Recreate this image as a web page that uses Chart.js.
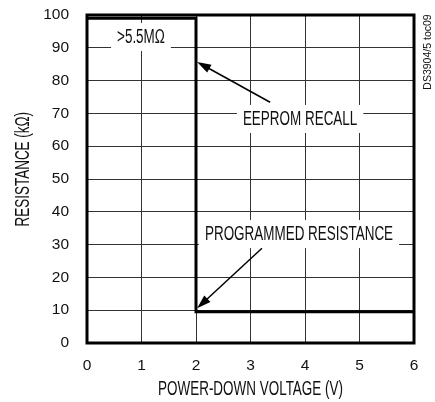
<!DOCTYPE html>
<html>
<head>
<meta charset="utf-8">
<script src="https://cdn.jsdelivr.net/npm/chart.js@4/dist/chart.umd.min.js"></script>
<style>
  html, body { margin: 0; padding: 0; background: #fff; }
  canvas { display: block; }
</style>
</head>
<body>
<canvas id="myChart" width="435" height="402"></canvas>
<script>
// Resistance vs power-down voltage
const voltage = [0, 2, 2, 6];
const resistance = [99, 99, 9.5, 9.5];
const xTicks = [0, 1, 2, 3, 4, 5, 6];
const yTicks = [0, 10, 20, 30, 40, 50, 60, 70, 80, 90, 100];

const FONT = "'Liberation Sans', Arial, sans-serif";
const SQUEEZE = 0.69;   // condensed look for the labels

// labels over the grid (data units)
const notes = [
    { text: '>5.5MΩ', x: 0.99, y: 93 },
    { text: 'EEPROM RECALL', x: 3.91, y: 68 },
    { text: 'PROGRAMMED RESISTANCE', x: 3.89, y: 32.9 }
];
const arrows = [
    { from: [3.36, 73.4], to: [2.02, 85.7] },
    { from: [3.21, 28.9], to: [2.02, 10.6] }
];

function narrowText(c, text, x, y, size, rot) {
    c.save();
    c.translate(x, y);
    if (rot) c.rotate(rot);
    c.scale(SQUEEZE, 1);
    c.font = size + 'px ' + FONT;
    c.textAlign = 'center';
    c.textBaseline = 'middle';
    c.fillStyle = '#111';
    c.fillText(text, 0, 0);
    c.restore();
}

const extras = {
    id: 'extras',
    beforeDatasetsDraw(chart) {
        const c = chart.ctx, xs = chart.scales.x, ys = chart.scales.y;
        notes.forEach(n => {
            const px = xs.getPixelForValue(n.x);
            const py = ys.getPixelForValue(n.y);
            c.save();
            c.font = '19.5px ' + FONT;
            const w = c.measureText(n.text).width * SQUEEZE + 12;
            c.fillStyle = '#fff';
            c.fillRect(px - w / 2, py - 15, w, 28);
            c.restore();
            narrowText(c, n.text, px, py, 19.5);
        });
    },
    afterDatasetsDraw(chart) {
        const c = chart.ctx, xs = chart.scales.x, ys = chart.scales.y;
        const a = chart.chartArea;
        c.save();
        // frame
        c.strokeStyle = '#000';
        c.lineWidth = 3;
        c.strokeRect(a.left, a.top, a.right - a.left, a.bottom - a.top);
        // arrows
        c.lineWidth = 1.5;
        c.fillStyle = '#000';
        arrows.forEach(ar => {
            const x1 = xs.getPixelForValue(ar.from[0]), y1 = ys.getPixelForValue(ar.from[1]);
            const x2 = xs.getPixelForValue(ar.to[0]), y2 = ys.getPixelForValue(ar.to[1]);
            const ang = Math.atan2(y2 - y1, x2 - x1);
            const cs = Math.cos(ang), sn = Math.sin(ang);
            c.beginPath();
            c.moveTo(x1, y1);
            c.lineTo(x2 - 10 * cs, y2 - 10 * sn);
            c.stroke();
            c.beginPath();
            c.moveTo(x2, y2);
            c.lineTo(x2 - 14 * cs + 4.5 * sn, y2 - 14 * sn - 4.5 * cs);
            c.lineTo(x2 - 14 * cs - 4.5 * sn, y2 - 14 * sn + 4.5 * cs);
            c.closePath();
            c.fill();
        });
        c.restore();
        // axis titles
        narrowText(c, 'POWER-DOWN VOLTAGE (V)', (a.left + a.right) / 2, 390, 19.5);
        narrowText(c, 'RESISTANCE (kΩ)', 24, ys.getPixelForValue(53), 19.5, -Math.PI / 2);
        // figure code
        c.save();
        c.fillStyle = '#111';
        c.font = '10.5px ' + FONT;
        c.textAlign = 'center';
        c.textBaseline = 'middle';
        c.translate(428, 52);
        c.rotate(-Math.PI / 2);
        c.fillText('DS3904/5 toc09', 0, 0);
        c.restore();
    }
};

const ctx = document.getElementById('myChart').getContext('2d');
const myChart = new Chart(ctx, {
    type: 'line',
    data: {
        datasets: [{
            data: voltage.map((v, i) => ({ x: v, y: resistance[i] })),
            borderColor: '#000',
            borderWidth: 3,
            borderJoinStyle: 'miter',
            pointRadius: 0,
            fill: false,
            tension: 0
        }]
    },
    options: {
        responsive: false,
        animation: false,
        layout: {
            padding: { top: 15, right: 21, left: 0, bottom: 0 }
        },
        plugins: {
            legend: { display: false },
            tooltip: { enabled: false }
        },
        scales: {
            x: {
                type: 'linear',
                min: 0,
                max: 6,
                afterBuildTicks: s => { s.ticks = xTicks.map(v => ({ value: v })); },
                afterFit: s => { s.height = 59; s.paddingLeft = 0; s.paddingRight = 0; },
                grid: { color: '#333', lineWidth: 1, drawTicks: false },
                border: { display: false },
                ticks: {
                    padding: 13,
                    maxRotation: 0,
                    color: '#111',
                    font: { family: FONT, size: 15.5 }
                }
            },
            y: {
                type: 'linear',
                min: 0,
                max: 100,
                afterBuildTicks: s => { s.ticks = yTicks.map(v => ({ value: v })); },
                afterFit: s => { s.width = 87; s.paddingTop = 0; s.paddingBottom = 0; },
                grid: { color: '#333', lineWidth: 1, drawTicks: false },
                border: { display: false },
                ticks: {
                    padding: 18,
                    color: '#111',
                    font: { family: FONT, size: 15.5 }
                }
            }
        }
    },
    plugins: [extras]
});
</script>
</body>
</html>
